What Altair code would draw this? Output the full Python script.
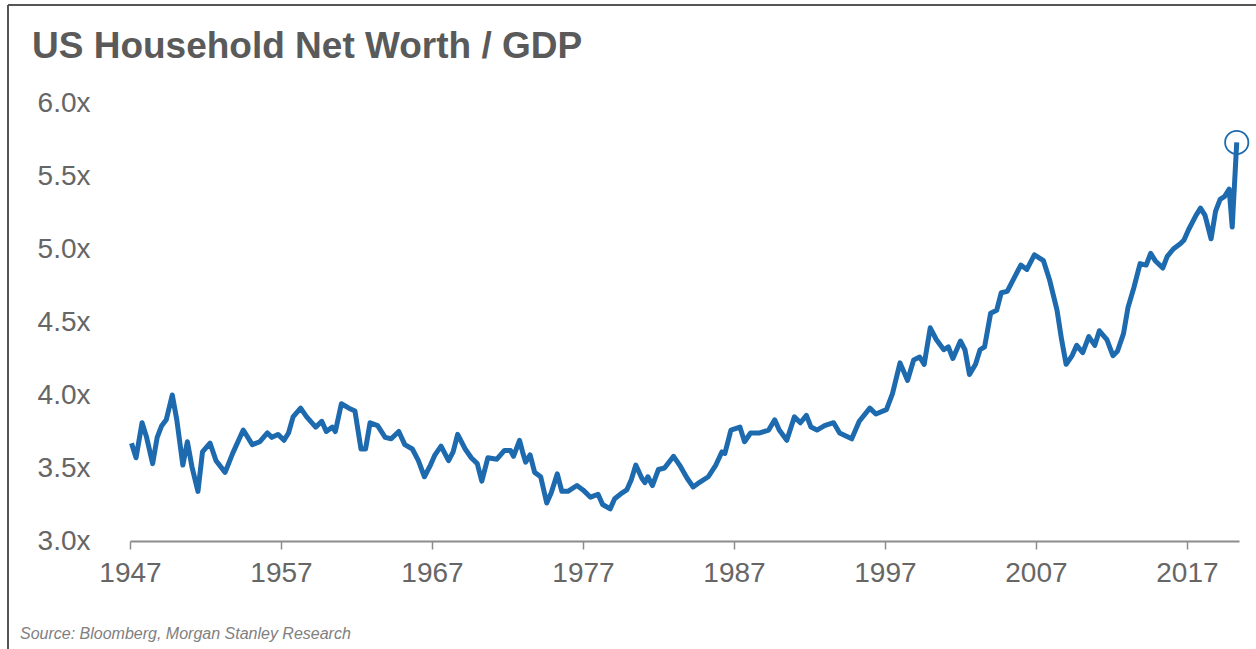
import altair as alt
import pandas as pd

# ---- data ----
years = [1947.1, 1947.4, 1947.8, 1948.1, 1948.5, 1948.8, 1949.1, 1949.4, 1949.8, 1950.1,
         1950.5, 1950.8, 1951.1, 1951.5, 1951.8, 1952.3, 1952.7, 1953.3, 1953.8, 1954.5,
         1955.1, 1955.6, 1956.1, 1956.4, 1956.8, 1957.2, 1957.5, 1957.8, 1958.3, 1958.7,
         1959.3, 1959.7, 1960.0, 1960.4, 1960.6, 1961.0, 1961.5, 1961.9, 1962.3, 1962.6,
         1962.9, 1963.4, 1963.9, 1964.3, 1964.8, 1965.2, 1965.7, 1966.1, 1966.5, 1966.9,
         1967.2, 1967.6, 1968.1, 1968.4, 1968.7, 1969.2, 1969.6, 1970.0, 1970.3, 1970.7,
         1971.3, 1971.8, 1972.2, 1972.4, 1972.8, 1973.0, 1973.2, 1973.5, 1973.8, 1974.2,
         1974.6, 1974.9, 1975.3, 1975.6, 1976.0, 1976.6, 1977.0, 1977.5, 1978.0, 1978.3,
         1978.8, 1979.1, 1979.6, 1979.9, 1980.2, 1980.5, 1980.9, 1981.1, 1981.3, 1981.6,
         1982.0, 1982.4, 1983.0, 1983.4, 1983.9, 1984.3, 1984.7, 1985.3, 1985.8, 1986.2,
         1986.4, 1986.8, 1987.4, 1987.7, 1988.1, 1988.7, 1989.3, 1989.7, 1990.0, 1990.5,
         1991.0, 1991.4, 1991.8, 1992.1, 1992.5, 1993.0, 1993.6, 1994.0, 1994.8, 1995.3,
         1996.0, 1996.4, 1997.1, 1997.5, 1998.0, 1998.5, 1998.9, 1999.3, 1999.6, 2000.0,
         2000.4, 2000.9, 2001.2, 2001.5, 2002.0, 2002.3, 2002.6, 2003.0, 2003.3, 2003.6,
         2004.0, 2004.4, 2004.7, 2005.1, 2005.5, 2006.0, 2006.4, 2006.9, 2007.5, 2007.9,
         2008.4, 2008.7, 2009.0, 2009.4, 2009.7, 2010.1, 2010.5, 2010.9, 2011.2, 2011.7,
         2012.1, 2012.4, 2012.8, 2013.1, 2013.5, 2013.9, 2014.3, 2014.6, 2014.9, 2015.4,
         2015.7, 2016.1, 2016.6, 2016.8, 2017.1, 2017.6, 2017.9, 2018.2, 2018.6, 2018.9,
         2019.2, 2019.5, 2019.8, 2020.0, 2020.3]
ratio = [3.67, 3.57, 3.81, 3.71, 3.53, 3.71, 3.79, 3.83, 4.00, 3.83,
         3.52, 3.68, 3.51, 3.34, 3.61, 3.67, 3.55, 3.47, 3.60, 3.76,
         3.66, 3.68, 3.74, 3.71, 3.73, 3.69, 3.74, 3.85, 3.91, 3.85,
         3.78, 3.82, 3.75, 3.78, 3.75, 3.94, 3.91, 3.89, 3.63, 3.63,
         3.81, 3.79, 3.71, 3.70, 3.75, 3.66, 3.63, 3.55, 3.44, 3.52,
         3.59, 3.65, 3.55, 3.61, 3.73, 3.63, 3.57, 3.53, 3.41, 3.57,
         3.56, 3.62, 3.62, 3.58, 3.69, 3.61, 3.54, 3.59, 3.47, 3.44,
         3.26, 3.33, 3.46, 3.34, 3.34, 3.38, 3.35, 3.30, 3.32, 3.25,
         3.22, 3.29, 3.33, 3.35, 3.42, 3.52, 3.43, 3.40, 3.44, 3.38,
         3.49, 3.50, 3.58, 3.52, 3.43, 3.37, 3.40, 3.44, 3.52, 3.61,
         3.60, 3.76, 3.78, 3.68, 3.74, 3.74, 3.76, 3.83, 3.76, 3.69,
         3.85, 3.81, 3.86, 3.78, 3.76, 3.79, 3.81, 3.74, 3.70, 3.82,
         3.91, 3.87, 3.90, 4.01, 4.22, 4.10, 4.24, 4.26, 4.21, 4.46,
         4.38, 4.31, 4.33, 4.25, 4.37, 4.31, 4.14, 4.21, 4.31, 4.33,
         4.56, 4.58, 4.70, 4.71, 4.79, 4.89, 4.86, 4.96, 4.92, 4.79,
         4.58, 4.38, 4.21, 4.27, 4.34, 4.29, 4.40, 4.34, 4.44, 4.38,
         4.27, 4.30, 4.42, 4.60, 4.74, 4.90, 4.89, 4.97, 4.92, 4.87,
         4.95, 5.00, 5.04, 5.06, 5.13, 5.23, 5.28, 5.23, 5.07, 5.26,
         5.34, 5.36, 5.41, 5.15, 5.73]
x_ticks = [1947, 1957, 1967, 1977, 1987, 1997, 2007, 2017]
y_ticks = [3.0, 3.5, 4.0, 4.5, 5.0, 5.5, 6.0]
title_text = ["US Household Net Worth / GDP"]
source_text = ["Source: Bloomberg, Morgan Stanley Research"]

BLUE = "#1d6aae"
GRAY = "#666666"
FONT = "Liberation Sans"

df = pd.DataFrame({"year": years, "ratio": ratio})
last = df.tail(1)

W, H = 1109, 438

x_enc = alt.X(
    "year:Q",
    title=None,
    scale=alt.Scale(domain=[1947, 2020.45], nice=False, zero=False),
    axis=alt.Axis(values=x_ticks, format="d", grid=False, domainColor="#8c8c8c",
                  domainWidth=2, tickColor="#8c8c8c", tickWidth=1.5, tickSize=8,
                  labelFontSize=28, labelColor=GRAY, labelFont=FONT, labelPadding=10,
                  labelFlush=False, labelOverlap=False),
)
y_enc = alt.Y(
    "ratio:Q",
    title=None,
    scale=alt.Scale(domain=[3, 6], nice=False, zero=False),
    axis=alt.Axis(values=y_ticks, labelExpr="format(datum.value, '.1f') + 'x'",
                  grid=False, domain=False, ticks=False, labelFontSize=28,
                  labelColor=GRAY, labelFont=FONT, labelPadding=40, labelFlush=False,
                  labelOverlap=False),
)

line = alt.Chart(df).mark_line(color=BLUE, strokeWidth=5, strokeJoin="round").encode(
    x=x_enc, y=y_enc)

marker = alt.Chart(last).mark_point(shape="circle", size=540, filled=False,
                                    strokeWidth=1.8, color=BLUE, opacity=1).encode(
    x="year:Q", y="ratio:Q")

title = alt.Chart(pd.DataFrame({"t": title_text})).mark_text(
    align="left", baseline="alphabetic", fontSize=37, fontWeight="bold",
    color="#5a5a5a", font=FONT).encode(x=alt.value(-98), y=alt.value(-45), text="t:N")

source = alt.Chart(pd.DataFrame({"t": source_text})).mark_text(
    align="left", baseline="alphabetic", fontSize=16, fontStyle="italic",
    color="#808080", font=FONT).encode(x=alt.value(-110), y=alt.value(536), text="t:N")

frame = pd.DataFrame({"a": [0]})
left_border = alt.Chart(frame).mark_rule(color="#555555", strokeWidth=2).encode(
    x=alt.value(-122), y=alt.value(-98), y2=alt.value(546))
top_border = alt.Chart(frame).mark_rule(color="#555555", strokeWidth=2).encode(
    x=alt.value(-122), x2=alt.value(1126), y=alt.value(-98))

chart = alt.layer(line, marker, title, source, left_border, top_border).properties(
    width=W, height=H,
    autosize=alt.AutoSizeParams(type="none"),
    padding={"left": 130, "top": 103, "right": 17, "bottom": 108},
    background="white",
).configure_view(stroke=None)

chart.save("out.html", embed_options={"renderer": "svg", "actions": False})
